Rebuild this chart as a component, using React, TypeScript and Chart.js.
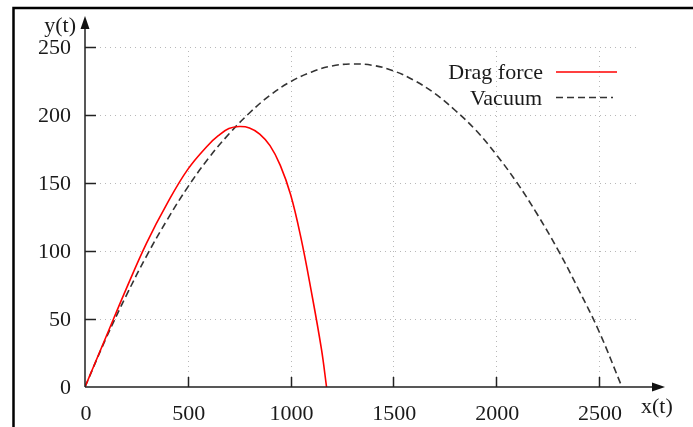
import React, { useEffect, useRef } from "react";
import { Chart, registerables } from "chart.js";

Chart.register(...registerables);

// Data
const dragX = [0, 100, 200, 300, 400, 500, 600, 650, 700, 750, 800, 850, 900, 950, 1000, 1050, 1100, 1150, 1175];
const dragY = [0, 36, 72, 106, 135, 160, 178, 185, 190, 191.5, 190.5, 186, 177.5, 163, 141.5, 110, 71, 28, 0];

const vacX = [0, 100, 200, 300, 400, 500, 600, 700, 800, 900, 1000, 1100, 1200, 1300, 1400, 1500, 1600, 1700, 1800, 1900, 2000, 2100, 2200, 2300, 2400, 2500, 2612];
const vacY = [0, 35, 67, 96.5, 123, 147, 168, 186, 201.5, 214.5, 224.5, 231.5, 236, 237.5, 236.5, 232.5, 225.5, 216, 203.5, 189, 171, 150.5, 127, 101, 72, 41, 0];

const xTicks = [0, 500, 1000, 1500, 2000, 2500];
const yTicks = [0, 50, 100, 150, 200, 250];

const seriesNames = ["Drag force", "Vacuum"];
const xLabel = "x(t)";
const yLabel = "y(t)";

const FONT = "'Liberation Serif', 'DejaVu Serif', serif";

export default function App() {
  const ref = useRef<HTMLCanvasElement | null>(null);

  useEffect(() => {
    document.body.style.margin = "0";
    const canvas = ref.current;
    if (!canvas) return;

    const decor = {
      id: "decor",
      beforeDatasetsDraw(chart: any) {
        const ctx = chart.ctx;
        const { left, right, top, bottom } = chart.chartArea;
        const xs = chart.scales.x;
        const ys = chart.scales.y;
        ctx.save();
        ctx.strokeStyle = "#b8b8b8";
        ctx.lineWidth = 1;
        ctx.setLineDash([1, 4]);
        for (const v of xTicks) {
          if (v === 0) continue;
          const px = Math.round(xs.getPixelForValue(v)) + 0.5;
          ctx.beginPath();
          ctx.moveTo(px, bottom);
          ctx.lineTo(px, top);
          ctx.stroke();
        }
        for (const v of yTicks) {
          if (v === 0) continue;
          const py = Math.round(ys.getPixelForValue(v)) + 0.5;
          ctx.beginPath();
          ctx.moveTo(left, py);
          ctx.lineTo(right, py);
          ctx.stroke();
        }
        ctx.restore();
      },
      afterDraw(chart: any) {
        const ctx = chart.ctx;
        const xs = chart.scales.x;
        const ys = chart.scales.y;
        const x0 = xs.getPixelForValue(0);
        const y0 = ys.getPixelForValue(0);
        ctx.save();
        // frame (partial border of the original image)
        ctx.strokeStyle = "#000";
        ctx.lineWidth = 2.5;
        ctx.setLineDash([]);
        ctx.beginPath();
        ctx.moveTo(13.5, 427);
        ctx.lineTo(13.5, 8);
        ctx.lineTo(693, 8);
        ctx.stroke();

        // axes
        ctx.strokeStyle = "#222";
        ctx.fillStyle = "#111";
        ctx.lineWidth = 1.5;
        const xEnd = 665;
        const yEnd = 16;
        ctx.beginPath();
        ctx.moveTo(x0, y0);
        ctx.lineTo(xEnd - 8, y0);
        ctx.moveTo(x0, y0);
        ctx.lineTo(x0, yEnd + 8);
        ctx.stroke();
        // arrowheads
        ctx.beginPath();
        ctx.moveTo(xEnd, y0);
        ctx.lineTo(xEnd - 13, y0 - 4.5);
        ctx.lineTo(xEnd - 13, y0 + 4.5);
        ctx.closePath();
        ctx.fill();
        ctx.beginPath();
        ctx.moveTo(x0, yEnd);
        ctx.lineTo(x0 - 4.5, yEnd + 13);
        ctx.lineTo(x0 + 4.5, yEnd + 13);
        ctx.closePath();
        ctx.fill();

        // ticks
        ctx.lineWidth = 1.5;
        ctx.beginPath();
        for (const v of xTicks) {
          if (v === 0) continue;
          const px = Math.round(xs.getPixelForValue(v)) + 0.5;
          ctx.moveTo(px, y0);
          ctx.lineTo(px, y0 - 10);
        }
        for (const v of yTicks) {
          if (v === 0) continue;
          const py = Math.round(ys.getPixelForValue(v)) + 0.5;
          ctx.moveTo(x0, py);
          ctx.lineTo(x0 + 11, py);
        }
        ctx.stroke();

        // tick labels
        ctx.fillStyle = "#1a1a1a";
        ctx.font = `22px ${FONT}`;
        ctx.textAlign = "center";
        ctx.textBaseline = "middle";
        for (const v of xTicks) {
          ctx.fillText(String(v), xs.getPixelForValue(v) + 1, y0 + 27);
        }
        ctx.textAlign = "right";
        for (const v of yTicks) {
          ctx.fillText(String(v), x0 - 14, ys.getPixelForValue(v) + 1);
        }
        // axis titles
        ctx.textAlign = "right";
        ctx.fillText(yLabel, 76, 26);
        ctx.textAlign = "left";
        ctx.fillText(xLabel, 641, 407);

        // legend
        ctx.textAlign = "right";
        ctx.fillText(seriesNames[0], 543, 73);
        ctx.fillText(seriesNames[1], 542, 99);
        ctx.lineWidth = 1.5;
        ctx.strokeStyle = "#ff0000";
        ctx.beginPath();
        ctx.moveTo(556, 72);
        ctx.lineTo(617, 72);
        ctx.stroke();
        ctx.strokeStyle = "#333";
        ctx.setLineDash([7, 4]);
        ctx.beginPath();
        ctx.moveTo(556, 97.5);
        ctx.lineTo(613, 97.5);
        ctx.stroke();
        ctx.restore();
      },
    };

    const chart = new Chart(canvas, {
      type: "line",
      data: {
        datasets: [
          {
            label: seriesNames[0],
            data: dragX.map((x, i) => ({ x, y: dragY[i] })),
            borderColor: "#ff0000",
            borderWidth: 1.6,
            pointRadius: 0,
            tension: 0.4,
            fill: false,
          },
          {
            label: seriesNames[1],
            data: vacX.map((x, i) => ({ x, y: vacY[i] })),
            borderColor: "#333333",
            borderWidth: 1.6,
            borderDash: [7, 4],
            pointRadius: 0,
            tension: 0.4,
            fill: false,
          },
        ],
      },
      options: {
        animation: false,
        responsive: false,
        maintainAspectRatio: false,
        layout: { padding: { left: 0, top: 47, right: 55, bottom: 0 } },
        plugins: {
          legend: { display: false },
          tooltip: { enabled: false },
        },
        scales: {
          x: {
            type: "linear",
            min: 0,
            max: 2690,
            ticks: { display: false },
            grid: { display: false },
            border: { display: false },
            afterFit: (s: any) => {
              s.height = 40;
            },
          },
          y: {
            type: "linear",
            min: 0,
            max: 250,
            ticks: { display: false },
            grid: { display: false },
            border: { display: false },
            afterFit: (s: any) => {
              s.width = 85;
            },
          },
        },
      },
      plugins: [decor],
    } as any);

    return () => chart.destroy();
  }, []);

  return (
    <div style={{ position: "absolute", left: 0, top: 0, width: 693, height: 427, background: "#fff" }}>
      <canvas ref={ref} width={693} height={427} style={{ display: "block" }} />
    </div>
  );
}
